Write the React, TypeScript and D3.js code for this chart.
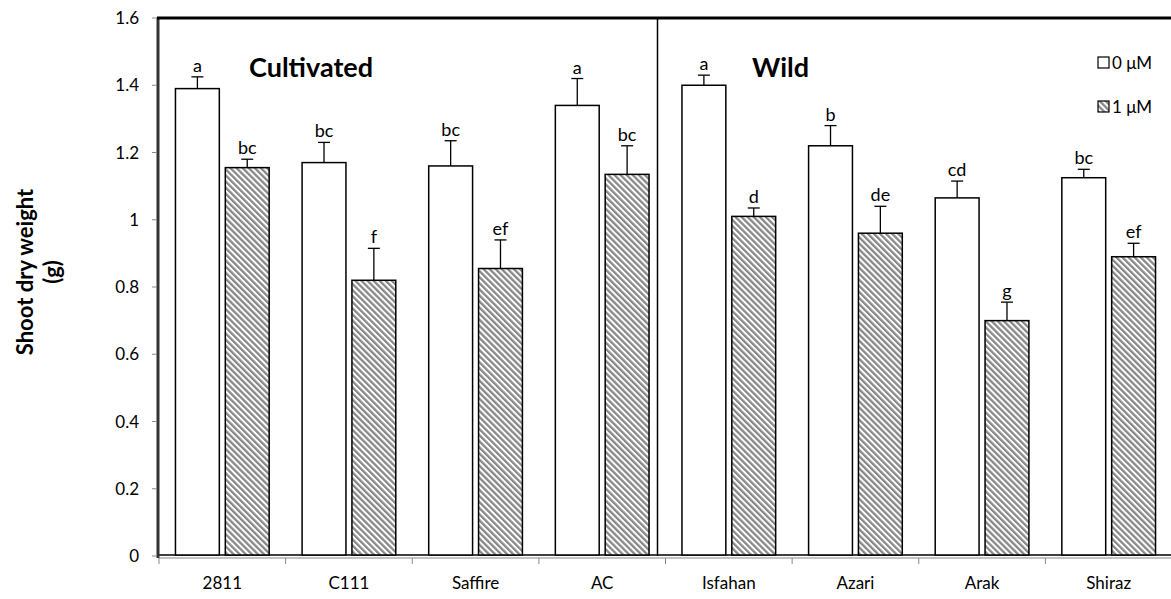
import React, { useEffect, useRef } from 'react'
import * as d3 from 'd3'

const categories = ['2811', 'C111', 'Saffire', 'AC', 'Isfahan', 'Azari', 'Arak', 'Shiraz']
const series = ['0 μM', '1 μM']
const control = [1.39, 1.17, 1.16, 1.34, 1.4, 1.22, 1.065, 1.125]
const controlErr = [0.035, 0.06, 0.075, 0.08, 0.03, 0.06, 0.05, 0.025]
const treated = [1.155, 0.82, 0.855, 1.135, 1.01, 0.96, 0.7, 0.89]
const treatedErr = [0.025, 0.095, 0.085, 0.085, 0.025, 0.08, 0.055, 0.04]
const controlLetters = ['a', 'bc', 'bc', 'a', 'a', 'b', 'cd', 'bc']
const treatedLetters = ['bc', 'f', 'ef', 'bc', 'd', 'de', 'g', 'ef']
const yTicks = [0, 0.2, 0.4, 0.6, 0.8, 1, 1.2, 1.4, 1.6]

const W = 1171
const H = 599
const font = 'Lato, "Open Sans", sans-serif'

const App: React.FC = () => {
  const ref = useRef<SVGSVGElement>(null)

  useEffect(() => {
    if (!ref.current) return
    const svg = d3.select(ref.current)
    svg.selectAll('*').remove()

    const left = 159
    const right = 1172
    const top = 18
    const bottom = 556

    const y = d3.scaleLinear().domain([0, 1.6]).range([bottom, top])
    const x0 = d3
      .scaleBand<string>()
      .domain(categories)
      .range([left, right])
      .paddingInner(0.26)
      .paddingOuter(0.13)
    const x1 = d3.scaleBand<string>().domain(series).range([0, x0.bandwidth()]).paddingInner(0.12)

    const defs = svg.append('defs')
    const pat = defs
      .append('pattern')
      .attr('id', 'hatch')
      .attr('patternUnits', 'userSpaceOnUse')
      .attr('width', 4.3)
      .attr('height', 4.3)
      .attr('patternTransform', 'rotate(-45)')
    pat.append('rect').attr('width', 4.3).attr('height', 4.3).attr('fill', '#fff')
    pat.append('rect').attr('width', 2.3).attr('height', 4.3).attr('fill', '#888')

    // baseline under bars
    svg
      .append('line')
      .attr('x1', left)
      .attr('x2', right)
      .attr('y1', bottom - 1)
      .attr('y2', bottom - 1)
      .attr('stroke', '#000')
      .attr('stroke-width', 1.5)

    const data = [
      { vals: control, errs: controlErr, letters: controlLetters, fill: '#fff', s: series[0] },
      { vals: treated, errs: treatedErr, letters: treatedLetters, fill: 'url(#hatch)', s: series[1] },
    ]

    data.forEach(d => {
      categories.forEach((c, i) => {
        const bx = (x0(c) ?? 0) + (x1(d.s) ?? 0)
        const bw = x1.bandwidth()
        const v = d.vals[i]
        const cx = bx + bw / 2
        const ey = y(v + d.errs[i])

        svg
          .append('line')
          .attr('x1', cx)
          .attr('x2', cx)
          .attr('y1', y(v))
          .attr('y2', ey)
          .attr('stroke', '#000')
          .attr('stroke-width', 1.3)
        svg
          .append('line')
          .attr('x1', cx - 6)
          .attr('x2', cx + 6)
          .attr('y1', ey)
          .attr('y2', ey)
          .attr('stroke', '#000')
          .attr('stroke-width', 1.3)

        svg
          .append('rect')
          .attr('x', bx)
          .attr('y', y(v))
          .attr('width', bw)
          .attr('height', bottom - 1 - y(v))
          .attr('fill', d.fill)
          .attr('stroke', '#000')
          .attr('stroke-width', 1.5)

        svg
          .append('text')
          .attr('x', cx)
          .attr('y', ey - 5)
          .attr('text-anchor', 'middle')
          .attr('font-family', font)
          .attr('font-size', 18)
          .attr('fill', '#000')
          .text(d.letters[i])
      })
    })

    // y axis
    svg
      .append('line')
      .attr('x1', left - 1)
      .attr('x2', left - 1)
      .attr('y1', top)
      .attr('y2', bottom + 2)
      .attr('stroke', '#333')
      .attr('stroke-width', 3)
    yTicks.forEach(t => {
      svg
        .append('line')
        .attr('x1', left - 7)
        .attr('x2', left - 2)
        .attr('y1', y(t))
        .attr('y2', y(t))
        .attr('stroke', '#888')
      svg
        .append('text')
        .attr('x', left - 20)
        .attr('y', y(t))
        .attr('dy', '0.36em')
        .attr('text-anchor', 'end')
        .attr('font-family', font)
        .attr('font-size', 17)
        .attr('fill', '#000')
        .text(String(t))
    })

    // x axis
    svg
      .append('line')
      .attr('x1', left)
      .attr('x2', right)
      .attr('y1', bottom + 2)
      .attr('y2', bottom + 2)
      .attr('stroke', '#888')
      .attr('stroke-width', 1.2)
    const step = x0.step()
    categories.forEach((c, i) => {
      const tx = left + i * step
      svg
        .append('line')
        .attr('x1', tx)
        .attr('x2', tx)
        .attr('y1', bottom + 2)
        .attr('y2', bottom + 8)
        .attr('stroke', '#888')
      svg
        .append('text')
        .attr('x', (x0(c) ?? 0) + x0.bandwidth() / 2)
        .attr('y', 589)
        .attr('text-anchor', 'middle')
        .attr('font-family', font)
        .attr('font-size', 17)
        .attr('fill', '#000')
        .text(c)
    })

    // top border and divider
    svg
      .append('line')
      .attr('x1', left - 2)
      .attr('x2', W)
      .attr('y1', top)
      .attr('y2', top)
      .attr('stroke', '#000')
      .attr('stroke-width', 3)
    const divX = left + 4 * step - 8
    svg
      .append('line')
      .attr('x1', divX)
      .attr('x2', divX)
      .attr('y1', top)
      .attr('y2', bottom)
      .attr('stroke', '#000')
      .attr('stroke-width', 1.5)

    svg
      .append('text')
      .attr('x', 249)
      .attr('y', 77)
      .attr('font-family', font)
      .attr('font-weight', 'bold')
      .attr('font-size', 27)
      .text('Cultivated')
    svg
      .append('text')
      .attr('x', 752)
      .attr('y', 77)
      .attr('font-family', font)
      .attr('font-weight', 'bold')
      .attr('font-size', 27)
      .text('Wild')

    // legend
    const legend = svg.append('g').attr('transform', 'translate(1098, 57)')
    series.forEach((s, i) => {
      const g = legend.append('g').attr('transform', `translate(0, ${i * 44})`)
      g.append('rect')
        .attr('width', 11)
        .attr('height', 11)
        .attr('fill', i === 0 ? '#fff' : 'url(#hatch)')
        .attr('stroke', '#000')
        .attr('stroke-width', 1.2)
      g.append('text')
        .attr('x', 14)
        .attr('y', 12)
        .attr('font-family', font)
        .attr('font-size', 17)
        .text(s)
    })

    // y title
    const yt = svg
      .append('text')
      .attr('transform', 'translate(33, 272) rotate(-90)')
      .attr('text-anchor', 'middle')
      .attr('font-family', font)
      .attr('font-weight', 'bold')
      .attr('font-size', 22)
    yt.append('tspan').attr('x', 0).attr('dy', 0).text('Shoot dry weight')
    yt.append('tspan').attr('x', 0).attr('dy', 27).text('(g)')
  }, [])

  return (
    <svg
      ref={ref}
      width={W}
      height={H}
      style={{ position: 'absolute', left: 0, top: 0, background: '#fff' }}
    />
  )
}

export default App
